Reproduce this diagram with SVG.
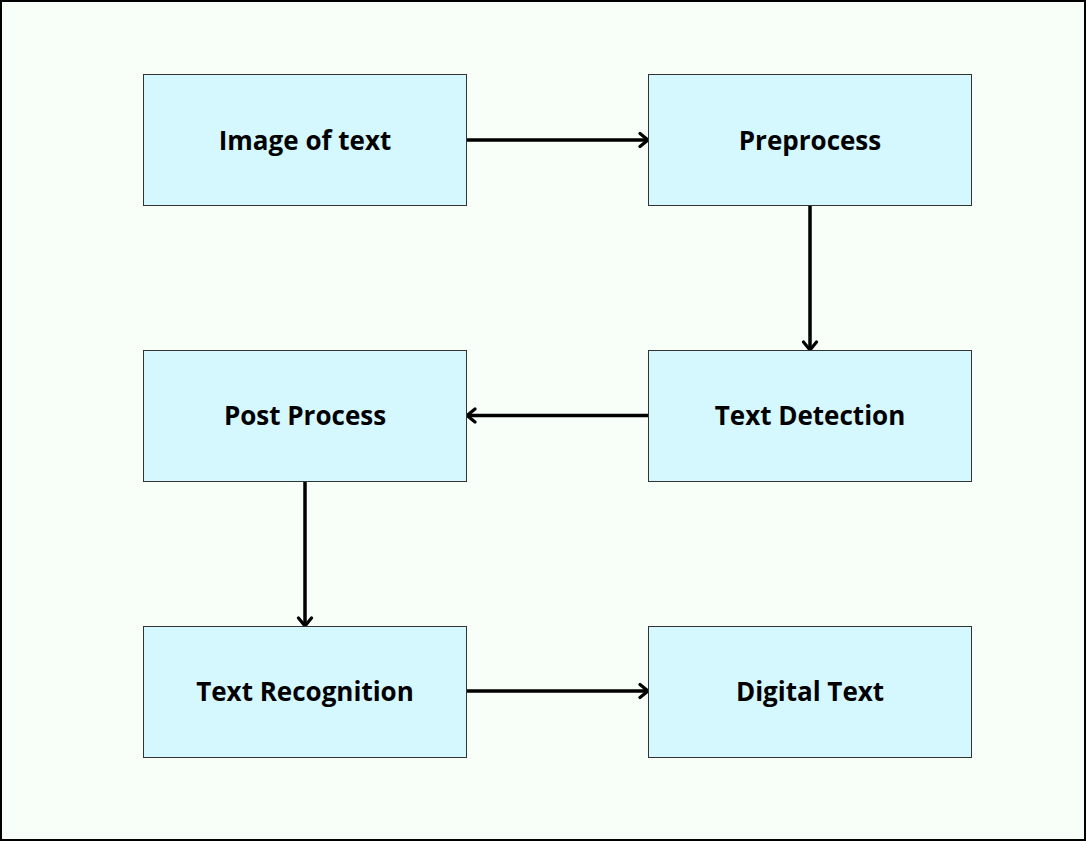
<svg xmlns="http://www.w3.org/2000/svg" width="1086" height="841" viewBox="0 0 1086 841">
<style>
.node rect{fill:#d5f7fe;stroke:#333;stroke-width:1}
.node text{font-family:"Open Sans","Noto Sans",sans-serif;font-weight:bold;font-size:26px;fill:#000;text-anchor:middle;dominant-baseline:central}
.conn line{stroke:#000;stroke-width:3.5;fill:none;marker-end:url(#arr)}
</style>
<defs>
<marker id="arr" viewBox="0 0 13 18" refX="11" refY="9" markerWidth="13" markerHeight="18" markerUnits="userSpaceOnUse" orient="auto">
<path d="M3,2.5 L11,9 L3,15.5" fill="none" stroke="#000" stroke-width="3.2" stroke-linecap="round" stroke-linejoin="round"/>
</marker>
</defs>
<rect x="1" y="1" width="1084" height="839" fill="#f8fff8" stroke="#000" stroke-width="2"/>
<g class="conn">
<line x1="467" y1="140" x2="648" y2="140"/>
<line x1="810" y1="206" x2="810" y2="350"/>
<line x1="648" y1="415.5" x2="467" y2="415.5"/>
<line x1="305" y1="482" x2="305" y2="626"/>
<line x1="467" y1="691" x2="648" y2="691"/>
</g>
<g id="n1" class="node"><rect x="143.5" y="74.5" width="323" height="131"/><text x="305" y="140">Image of text</text></g>
<g id="n2" class="node"><rect x="648.5" y="74.5" width="323" height="131"/><text x="810" y="140">Preprocess</text></g>
<g id="n3" class="node"><rect x="648.5" y="350.5" width="323" height="131"/><text x="810" y="415">Text Detection</text></g>
<g id="n4" class="node"><rect x="143.5" y="350.5" width="323" height="131"/><text x="305" y="415">Post Process</text></g>
<g id="n5" class="node"><rect x="143.5" y="626.5" width="323" height="131"/><text x="305" y="691">Text Recognition</text></g>
<g id="n6" class="node"><rect x="648.5" y="626.5" width="323" height="131"/><text x="810" y="691">Digital Text</text></g>
</svg>
